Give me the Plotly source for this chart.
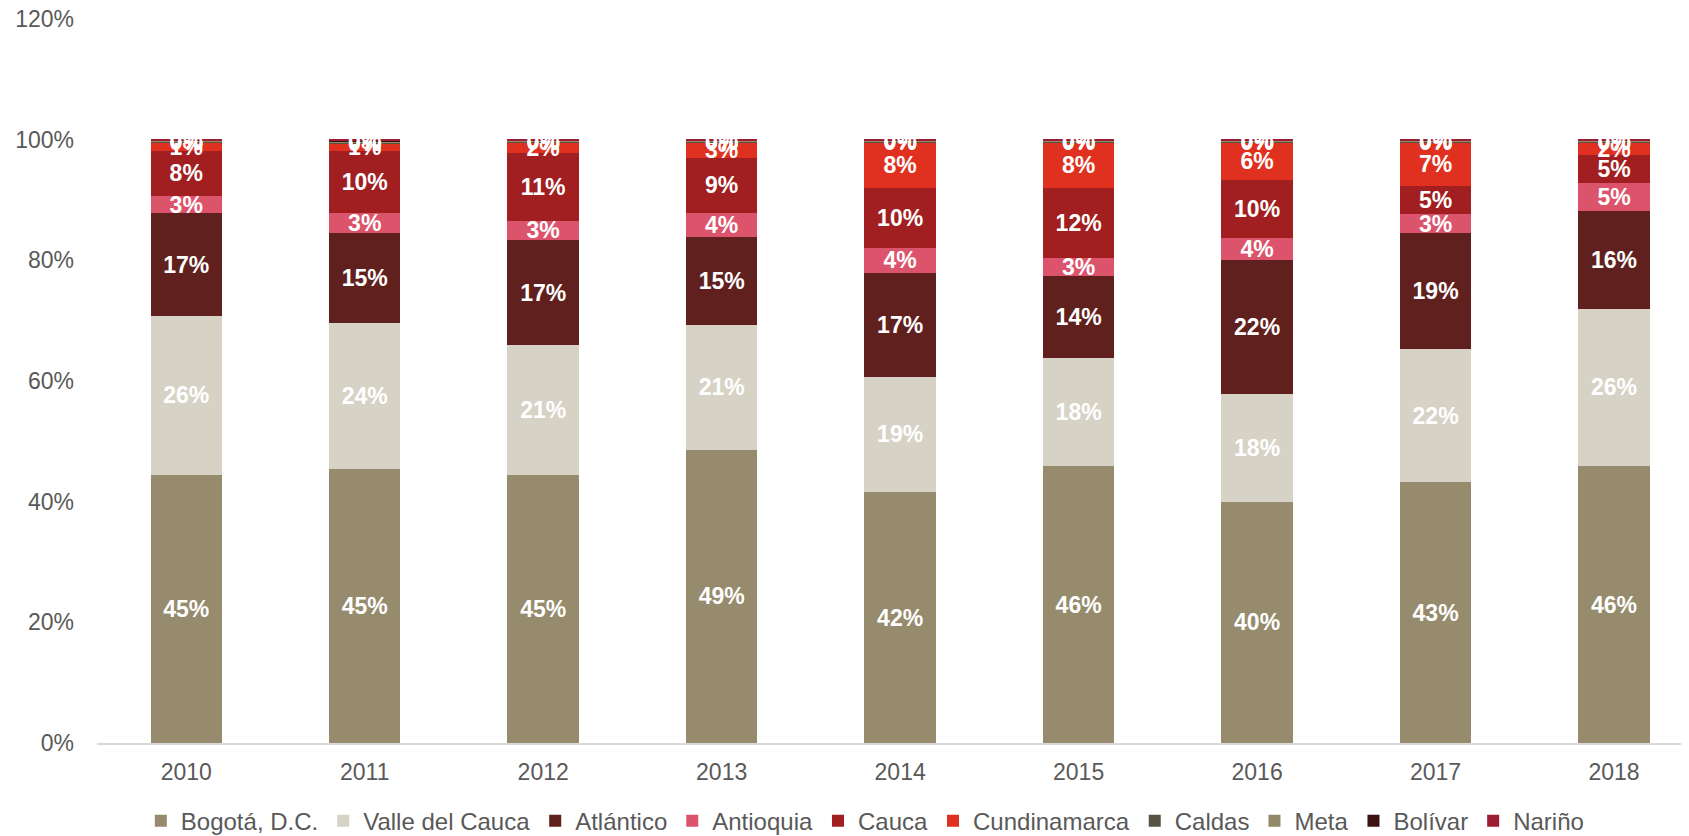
import plotly.graph_objects as go

years = ["2010", "2011", "2012", "2013", "2014", "2015", "2016", "2017", "2018"]

bogota = [44.5, 45.4, 44.5, 48.6, 41.6, 45.9, 40.0, 43.2, 45.9]
valle = [26.2, 24.2, 21.4, 20.7, 19.1, 17.9, 17.9, 22.1, 26.1]
atlantico = [17.1, 14.9, 17.4, 14.6, 17.2, 13.6, 22.1, 19.3, 16.2]
antioquia = [2.8, 3.3, 3.3, 4.0, 4.2, 3.0, 3.7, 3.0, 4.6]
cauca = [7.6, 10.4, 11.2, 9.1, 9.9, 11.6, 9.6, 4.7, 4.6]
cundinamarca = [1.3, 1.2, 1.7, 2.6, 7.6, 7.6, 6.3, 7.3, 2.2]
caldas = [0.2, 0.2, 0.2, 0.1, 0.1, 0.1, 0.1, 0.1, 0.1]
meta = [0.1, 0.1, 0.1, 0.1, 0.1, 0.1, 0.1, 0.1, 0.1]
bolivar = [0.1, 0.2, 0.1, 0.1, 0.1, 0.1, 0.1, 0.1, 0.1]
narino = [0.1, 0.1, 0.1, 0.1, 0.1, 0.1, 0.1, 0.1, 0.1]

series = [
    ("Bogotá, D.C.", bogota, "#968B6C"),
    ("Valle del Cauca", valle, "#D6D3C6"),
    ("Atlántico", atlantico, "#60201E"),
    ("Antioquia", antioquia, "#DC546C"),
    ("Cauca", cauca, "#A11F21"),
    ("Cundinamarca", cundinamarca, "#E03120"),
    ("Caldas", caldas, "#595442"),
    ("Meta", meta, "#918968"),
    ("Bolívar", bolivar, "#3A1212"),
    ("Nariño", narino, "#9C1C32"),
]

fig = go.Figure()
for name, vals, color in series:
    fig.add_trace(go.Bar(
        name=name,
        x=years,
        y=[v / 100 for v in vals],
        marker=dict(color=color, line=dict(width=0)),
        texttemplate="<b>%{y:.0%}</b>",
        textposition="inside",
        insidetextanchor="middle",
        textfont=dict(color="white", size=23, family="Liberation Sans"),
        cliponaxis=False,
    ))

# the page body keeps its default 8px margin, so the figure is 8px smaller
fig.update_layout(
    barmode="stack",
    bargap=0.6,
    width=1681,
    height=828,
    margin=dict(l=89, r=0, t=11, b=93, autoexpand=False),
    plot_bgcolor="white",
    paper_bgcolor="white",
    font=dict(family="Liberation Sans", color="#595959", size=22),
    uniformtext=dict(minsize=23, mode="show"),
    legend=dict(
        orientation="h",
        x=0.510, xanchor="center", xref="container",
        y=0.018, yanchor="middle", yref="container",
        font=dict(family="Liberation Sans", size=24, color="#595959"),
        traceorder="normal",
        itemwidth=30,
    ),
    xaxis=dict(
        range=[-0.5, 8.42],
        automargin=False,
        showline=True, linecolor="#D9D9D9", linewidth=2,
        ticks="", showgrid=False,
        ticklabelstandoff=7,
        tickfont=dict(size=23, color="#595959"),
    ),
    yaxis=dict(
        range=[0, 1.2],
        automargin=False,
        tickformat=".0%",
        dtick=0.2,
        showgrid=False, zeroline=False,
        ticks="", ticklabelstandoff=22,
        ticklabeloverflow="allow",
        tickfont=dict(size=23, color="#595959"),
    ),
)

fig.write_html("out.html")
